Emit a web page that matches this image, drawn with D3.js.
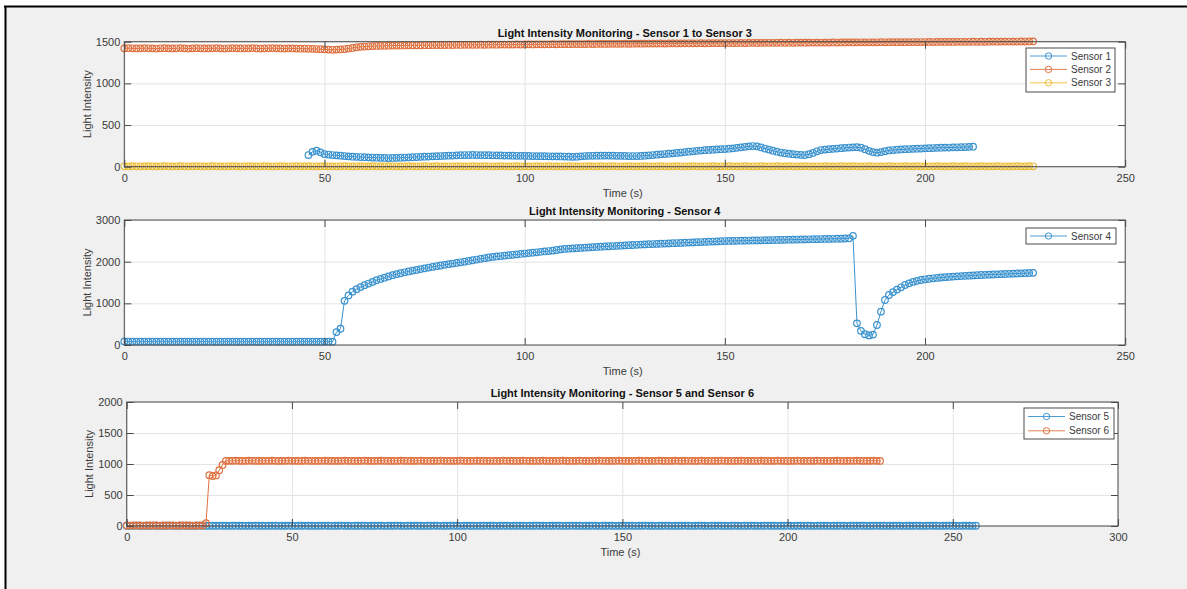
<!DOCTYPE html>
<html><head><meta charset="utf-8">
<script src="https://cdn.jsdelivr.net/npm/d3@7"></script>
<style>
html,body{margin:0;padding:0;background:#fff;}
svg{display:block;font-family:"Liberation Sans",Arial,Helvetica,sans-serif;}
</style></head><body>
<svg id="chart" width="1187" height="589"></svg>
<script>
// ---------------- DATA (1 sample per second) ----------------
const titles = [
  "Light Intensity Monitoring - Sensor 1 to Sensor 3",
  "Light Intensity Monitoring - Sensor 4",
  "Light Intensity Monitoring - Sensor 5 and Sensor 6"
];
const xLabel = "Time (s)";
const yLabel = "Light Intensity";
const xTicks12 = [0, 50, 100, 150, 200, 250];
const xTicks3 = [0, 50, 100, 150, 200, 250, 300];
const yTicks1 = [0, 500, 1000, 1500];
const yTicks2 = [0, 1000, 2000, 3000];
const yTicks3 = [0, 500, 1000, 1500, 2000];

const seriesNames = ["Sensor 1", "Sensor 2", "Sensor 3", "Sensor 4", "Sensor 5", "Sensor 6"];
const seriesStart = [46, 0, 0, 0, 0, 0];

const sensor1 = [
140,178,192,172,152,146,140,136,132,128,
124,120,118,116,114,112,110,108,106,105,
104,105,106,108,110,112,114,116,118,120,
122,124,126,128,130,132,134,136,138,140,
140,141,140,139,138,138,137,136,135,134,
133,132,131,130,130,129,128,127,126,126,
125,124,124,123,122,120,118,120,124,128,
130,131,132,132,133,133,132,131,130,129,
128,128,128,129,132,136,140,144,148,152,
156,160,165,170,175,180,185,190,194,198,
201,204,207,210,212,216,220,226,232,238,
244,248,244,232,218,205,192,180,170,162,
156,150,146,142,140,150,165,185,200,205,
210,214,218,222,226,230,232,234,228,210,
190,175,168,175,186,195,200,204,207,210,
212,214,216,218,220,222,224,226,228,229,
230,232,233,234,236,238,240];

const sensor2 = [
1420,1422,1421,1419,1420,1423,1421,1420,1418,1421,
1422,1420,1419,1421,1423,1420,1418,1420,1422,1421,
1419,1420,1421,1423,1420,1418,1421,1422,1420,1419,
1421,1420,1422,1419,1418,1420,1421,1423,1420,1419,
1418,1420,1419,1417,1416,1418,1415,1414,1412,1410,
1408,1405,1403,1405,1408,1412,1418,1425,1432,1438,
1442,1445,1447,1449,1450,1451,1452,1453,1454,1455,
1455,1456,1457,1456,1457,1458,1458,1459,1460,1459,
1460,1461,1460,1462,1461,1462,1463,1462,1463,1464,
1463,1464,1465,1464,1465,1466,1465,1466,1467,1466,
1467,1468,1467,1468,1469,1468,1469,1470,1469,1470,
1471,1470,1471,1472,1471,1472,1473,1472,1473,1474,
1473,1474,1475,1474,1475,1476,1475,1476,1477,1476,
1477,1478,1477,1478,1479,1478,1479,1480,1479,1480,
1480,1481,1480,1481,1482,1481,1482,1483,1482,1483,
1483,1484,1483,1484,1485,1484,1485,1486,1485,1486,
1486,1487,1486,1487,1488,1487,1488,1487,1488,1489,
1488,1489,1490,1489,1490,1489,1490,1491,1490,1491,
1491,1492,1491,1492,1493,1492,1493,1492,1493,1494,
1493,1494,1495,1494,1495,1494,1495,1496,1495,1496,
1496,1497,1496,1497,1498,1497,1498,1497,1498,1499,
1498,1499,1500,1499,1500,1499,1500,1501,1500,1501,
1501,1502,1501,1502,1503,1502,1503,1504];

const sensor3 = [
5,4,6,5,5,4,6,5,4,5, 6,5,4,5,6,5,5,4,6,5, 4,5,6,5,4,5,5,6,4,5,
5,6,5,4,5,6,4,5,5,6, 4,5,5,6,5,4,6,5,5,4, 6,5,4,5,5,6,5,4,5,6,
5,4,6,5,4,5,6,5,5,4, 5,6,4,5,5,6,5,4,6,5, 4,5,5,6,5,4,5,6,5,4,
6,5,5,4,6,5,4,5,6,5, 5,4,5,6,4,5,6,5,4,5, 5,6,5,4,5,5,6,4,5,6,
4,5,6,5,5,4,6,5,4,5, 6,5,4,5,6,5,5,4,6,5, 5,4,6,5,4,5,5,6,4,5,
5,6,5,4,5,6,4,5,5,6, 4,5,5,6,5,4,6,5,5,4, 6,5,4,5,5,6,5,4,5,6,
5,4,6,5,4,5,6,5,5,4, 5,6,4,5,5,6,5,4,6,5, 4,5,5,6,5,4,5,6,5,4,
6,5,5,4,6,5,4,5,6,5, 5,4,5,6,4,5,6,5];

const sensor4 = [
85,82,80,81,79,80,82,80,79,81,
80,78,80,81,79,80,80,78,79,80,
81,79,80,78,79,80,81,79,78,80,
79,80,81,80,78,79,80,79,81,80,
79,80,78,79,80,81,79,80,79,78,
80,79,80,310,390,1060,1190,1280,1340,1390,
1435,1475,1515,1555,1585,1615,1645,1675,1700,1722,
1745,1765,1785,1803,1822,1840,1858,1875,1892,1908,
1924,1940,1955,1970,1985,2000,2017,2034,2051,2068,
2085,2100,2115,2125,2135,2145,2155,2165,2175,2185,
2195,2205,2215,2225,2235,2245,2255,2265,2280,2295,
2305,2311,2317,2323,2329,2335,2341,2347,2353,2359,
2365,2370,2375,2380,2385,2390,2395,2400,2405,2410,
2415,2419,2423,2427,2431,2435,2439,2443,2447,2451,
2455,2459,2463,2467,2471,2475,2479,2483,2487,2491,
2495,2497,2499,2501,2503,2505,2507,2509,2511,2513,
2515,2517,2519,2521,2523,2525,2527,2529,2531,2533,
2535,2537,2539,2541,2543,2545,2547,2549,2551,2553,
2556,2560,2620,520,340,260,230,250,480,800,
1080,1200,1270,1330,1385,1440,1480,1515,1540,1560,
1577,1590,1601,1611,1620,1628,1635,1642,1648,1654,
1660,1665,1670,1675,1680,1684,1688,1692,1696,1700,
1704,1708,1712,1716,1720,1724,1728,1732];

const sensor5 = [
4,3,4,5,4,3,4,4,5,4, 3,4,4,5,4,3,4,5,4,4, 3,4,5,4,4,3,4,4,5,4,
4,3,4,5,4,4,3,4,4,5, 4,4,3,4,5,4,3,4,4,5, 4,3,4,4,5,4,4,3,4,4,
5,4,3,4,4,5,4,4,3,4, 4,5,4,3,4,4,5,4,3,4, 4,4,5,4,3,4,4,5,4,4,
3,4,4,5,4,3,4,4,4,5, 4,3,4,5,4,4,3,4,4,5, 4,4,3,4,5,4,3,4,4,5,
4,3,4,4,5,4,4,3,4,4, 5,4,3,4,4,5,4,4,3,4, 4,5,4,3,4,4,5,4,3,4,
4,4,5,4,3,4,4,5,4,4, 3,4,4,5,4,3,4,4,4,5, 4,3,4,5,4,4,3,4,4,5,
4,4,3,4,5,4,3,4,4,5, 4,3,4,4,5,4,4,3,4,4, 5,4,3,4,4,5,4,4,3,4,
4,5,4,3,4,4,5,4,3,4, 4,4,5,4,3,4,4,5,4,4, 3,4,4,5,4,3,4,4,4,5,
4,3,4,5,4,4,3,4,4,5, 4,4,3,4,5,4,3,4];

const sensor6 = [
8,7,8,9,8,7,8,8,9,8,
7,8,8,9,8,7,8,9,8,8,
7,8,9,8,45,820,805,815,900,985,
1050,1052,1051,1053,1052,1050,1051,1053,1052,1051,
1050,1051,1052,1051,1053,1052,1050,1051,1052,1053,
1052,1051,1050,1052,1053,1051,1052,1050,1051,1052,
1053,1052,1051,1050,1052,1051,1053,1052,1051,1050,
1051,1052,1053,1051,1050,1052,1051,1053,1052,1051,
1050,1052,1051,1053,1052,1051,1050,1051,1052,1053,
1052,1051,1050,1052,1051,1053,1052,1050,1051,1052,
1051,1053,1052,1050,1051,1052,1053,1051,1050,1052,
1052,1051,1050,1052,1053,1051,1052,1050,1051,1052,
1053,1052,1051,1050,1052,1051,1053,1052,1051,1050,
1051,1052,1053,1051,1050,1052,1051,1053,1052,1051,
1050,1052,1051,1053,1052,1051,1050,1051,1052,1053,
1052,1051,1050,1052,1051,1053,1052,1050,1051,1052,
1051,1053,1052,1050,1051,1052,1053,1051,1050,1052,
1052,1051,1050,1052,1053,1051,1052,1050,1051,1052,
1053,1052,1051,1050,1052,1051,1053,1052,1051,1050,
1051,1052,1053,1051,1050,1052,1051,1053,1052,1051,
1050,1052,1051,1053,1052,1051,1050,1051,1052,1053,
1052,1051,1050,1052,1051,1053,1052,1050,1051,1052,
1051,1053,1052,1050,1051,1052,1053,1051,1050];

// ---------------- STYLE / LAYOUT ----------------
const C_BLUE = "#3a92cf", C_ORANGE = "#df7240", C_YELLOW = "#eebc35";
const allValues = [sensor1, sensor2, sensor3, sensor4, sensor5, sensor6];
const allColors = [C_BLUE, C_ORANGE, C_YELLOW, C_BLUE, C_BLUE, C_ORANGE];

const panels = [
  {title: titles[0], left: 124.3, right: 1125.2, top: 41.7, bottom: 166.7, xMax: 250, yMax: 1500,
   xTicks: xTicks12, yTicks: yTicks1, series: [0, 1, 2],
   legend: {x: 1026, y: 48, w: 89, h: 44, row0: 8, step: 13.4}},
  {title: titles[1], left: 124.3, right: 1125.2, top: 220, bottom: 345, xMax: 250, yMax: 3000,
   xTicks: xTicks12, yTicks: yTicks2, series: [3],
   legend: {x: 1026, y: 228, w: 90, h: 16, row0: 8, step: 13.4}},
  {title: titles[2], left: 126.7, right: 1118, top: 402, bottom: 526, xMax: 300, yMax: 2000,
   xTicks: xTicks3, yTicks: yTicks3, series: [4, 5],
   legend: {x: 1024, y: 408, w: 90, h: 31, row0: 8.5, step: 14.3}}
];

const svg = d3.select("#chart");
// figure background + frame
svg.append("rect").attr("x", 5).attr("y", 6).attr("width", 1182).attr("height", 583).attr("fill", "#f0f0f0");
svg.append("line").attr("x1", 4).attr("x2", 1187).attr("y1", 6.5).attr("y2", 6.5).attr("stroke", "#000").attr("stroke-width", 2);
svg.append("line").attr("x1", 5.5).attr("x2", 5.5).attr("y1", 6).attr("y2", 589).attr("stroke", "#000").attr("stroke-width", 2);

const TEXT = "#3a3a3a", BOX = "#4a4a4a", GRID = "#e4e4e4";
const fmt = d3.format("d");

panels.forEach(p => {
  const x = d3.scaleLinear().domain([0, p.xMax]).range([p.left, p.right]);
  const y = d3.scaleLinear().domain([0, p.yMax]).range([p.bottom, p.top]);
  const W = p.right - p.left, H = p.bottom - p.top;
  const g = svg.append("g");

  g.append("rect").attr("x", p.left).attr("y", p.top).attr("width", W).attr("height", H).attr("fill", "#fff");

  // grid
  g.append("g").attr("transform", `translate(0,${p.bottom})`)
    .call(d3.axisBottom(x).tickValues(p.xTicks).tickSize(-H).tickFormat(""))
    .call(s => s.select(".domain").remove())
    .selectAll("line").attr("stroke", GRID).attr("stroke-width", 1);
  g.append("g").attr("transform", `translate(${p.left},0)`)
    .call(d3.axisLeft(y).tickValues(p.yTicks).tickSize(-W).tickFormat(""))
    .call(s => s.select(".domain").remove())
    .selectAll("line").attr("stroke", GRID).attr("stroke-width", 1);

  // series
  p.series.forEach(si => {
    const data = allValues[si].map((v, i) => [seriesStart[si] + i, v]);
    const col = allColors[si];
    g.append("path").datum(data)
      .attr("fill", "none").attr("stroke", col).attr("stroke-width", 1)
      .attr("d", d3.line().x(d => x(d[0])).y(d => y(d[1])));
    g.append("g").selectAll("circle").data(data).join("circle")
      .attr("cx", d => x(d[0])).attr("cy", d => y(d[1])).attr("r", 3.3)
      .attr("fill", "none").attr("stroke", col).attr("stroke-width", 1.2);
  });

  // box
  g.append("rect").attr("x", p.left).attr("y", p.top).attr("width", W).attr("height", H)
    .attr("fill", "none").attr("stroke", BOX).attr("stroke-width", 1);

  // axes (inward ticks)
  const styleAxis = s => {
    s.select(".domain").remove();
    s.selectAll("line").attr("stroke", BOX);
    s.selectAll("text").attr("fill", TEXT).style("font-size", "11px").style("font-family", '"Liberation Sans",Arial,sans-serif');
  };
  g.append("g").attr("transform", `translate(0,${p.bottom})`)
    .call(d3.axisBottom(x).tickValues(p.xTicks).tickFormat(fmt).tickSizeInner(-7).tickSizeOuter(0).tickPadding(7.5))
    .call(styleAxis);
  g.append("g").attr("transform", `translate(0,${p.top})`)
    .call(d3.axisTop(x).tickValues(p.xTicks).tickSizeInner(-7).tickSizeOuter(0).tickFormat(""))
    .call(styleAxis);
  g.append("g").attr("transform", `translate(${p.left},0)`)
    .call(d3.axisLeft(y).tickValues(p.yTicks).tickFormat(fmt).tickSizeInner(-7).tickSizeOuter(0).tickPadding(4))
    .call(styleAxis);
  g.append("g").attr("transform", `translate(${p.right},0)`)
    .call(d3.axisRight(y).tickValues(p.yTicks).tickSizeInner(-7).tickSizeOuter(0).tickFormat(""))
    .call(styleAxis);

  // title
  g.append("text").attr("x", (p.left + p.right) / 2).attr("y", p.top - 8.5).attr("dy", "0.35em")
    .attr("text-anchor", "middle").attr("font-weight", "bold").attr("font-size", 11)
    .attr("fill", "#111").text(p.title);
  // x label
  g.append("text").attr("x", (p.left + p.right) / 2 - 2).attr("y", p.bottom + 26.5).attr("dy", "0.35em")
    .attr("text-anchor", "middle").attr("font-size", 11).attr("fill", TEXT).text(xLabel);
  // y label
  g.append("text").attr("transform", `translate(${p.left - 37.5},${(p.top + p.bottom) / 2}) rotate(-90)`)
    .attr("dy", "0.35em").attr("text-anchor", "middle").attr("font-size", 11).attr("fill", TEXT).text(yLabel);

  // legend
  const L = p.legend;
  const lg = g.append("g");
  lg.append("rect").attr("x", L.x).attr("y", L.y).attr("width", L.w).attr("height", L.h)
    .attr("fill", "#fff").attr("stroke", BOX).attr("stroke-width", 1);
  p.series.forEach((si, k) => {
    const ry = L.y + L.row0 + k * L.step;
    lg.append("line").attr("x1", L.x + 4).attr("x2", L.x + 41).attr("y1", ry).attr("y2", ry)
      .attr("stroke", allColors[si]).attr("stroke-width", 0.9);
    lg.append("circle").attr("cx", L.x + 22.5).attr("cy", ry).attr("r", 3.2)
      .attr("fill", "none").attr("stroke", allColors[si]).attr("stroke-width", 1);
    lg.append("text").attr("x", L.x + 45).attr("y", ry).attr("dy", "0.35em")
      .attr("font-size", 10).attr("fill", TEXT).text(seriesNames[si]);
  });
});
</script>
</body></html>
